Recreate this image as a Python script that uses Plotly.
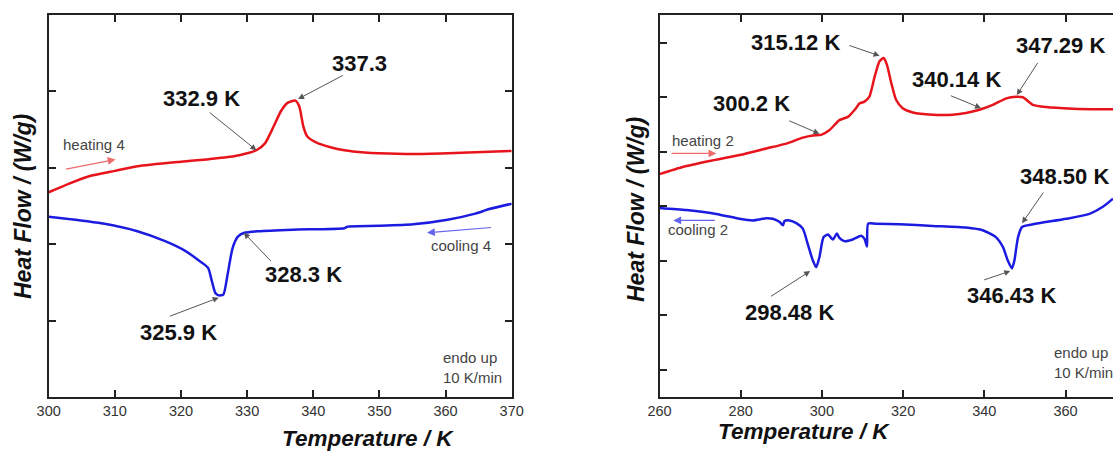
import plotly.graph_objects as go

# ---------------- data (arbitrary heat-flow units) ----------------
heat4_T = [300, 303, 306.1, 310, 313.4, 320, 323.9, 328, 330, 331.4, 332.7, 334, 335.1, 336.1,
           337.3, 337.9, 338.5, 339.1, 340.5, 342.6, 344.7, 347.8, 349.9, 355.1, 360.3, 370]
heat4_Q = [2.68, 2.79, 2.89, 2.96, 3.02, 3.08, 3.11, 3.15, 3.19, 3.23, 3.32, 3.54, 3.74, 3.85,
           3.88, 3.80, 3.54, 3.41, 3.33, 3.27, 3.23, 3.20, 3.19, 3.18, 3.19, 3.22]

cool4_T = [300, 303, 308.2, 313.4, 317.6, 320.7, 322.8, 324.1, 324.6, 325.2, 325.7, 326.4, 327,
           327.8, 328.6, 329.6, 331.7, 336.9, 344.7, 345.2, 349.9, 355.1, 360.3, 364.5, 366.6, 370]
cool4_Q = [2.36, 2.33, 2.27, 2.17, 2.04, 1.91, 1.78, 1.69, 1.54, 1.36, 1.33, 1.34, 1.58,
           1.95, 2.10, 2.15, 2.17, 2.19, 2.21, 2.23, 2.24, 2.26, 2.32, 2.40, 2.46, 2.53]

heat2_T = [260, 265.7, 272.3, 279.7, 286.3, 291.2, 295.3, 297.8, 299.8, 301.9, 304.3, 306.4, 308.4,
           309.3, 310.5, 311.7, 313, 314.2, 315.2, 316, 317.1, 318.3, 319.9, 322.4, 327.3, 332.2,
           335.5, 338.8, 342.1, 345.4, 347.8, 349.5, 352, 355.2, 361.8, 368.4, 371.7]
heat2_Q = [4.09, 4.22, 4.33, 4.44, 4.56, 4.65, 4.76, 4.80, 4.81, 4.90, 5.08, 5.14, 5.30,
           5.39, 5.42, 5.51, 5.88, 6.16, 6.22, 6.10, 5.76, 5.45, 5.30, 5.22, 5.18, 5.18,
           5.21, 5.27, 5.36, 5.48, 5.51, 5.50, 5.36, 5.32, 5.29, 5.28, 5.28]

cool2_T = [260, 266.6, 274, 279.7, 283, 286.3, 287.9, 289.6, 290.4, 290.8, 292, 293.7, 295.3, 296.5,
           297.8, 298.6, 299.4, 300.4, 301.5, 302.7, 303.7, 304.3, 305.6, 307.6, 309.7, 310.5, 311.1,
           311.4, 313.4, 319.1, 327.3, 335.5, 339.6, 342.9, 344.6, 345.8, 346.8, 347.4, 348.3, 349.3,
           352, 360.2, 365.9, 369.2, 371.7]
cool2_Q = [3.47, 3.43, 3.36, 3.27, 3.24, 3.28, 3.27, 3.21, 3.15, 3.23, 3.24, 3.19, 3.09, 2.81,
           2.50, 2.38, 2.57, 2.93, 2.98, 2.89, 3.00, 2.92, 2.86, 2.89, 2.96, 2.90, 2.76,
           3.18, 3.18, 3.17, 3.14, 3.11, 3.06, 2.93, 2.75, 2.50, 2.36, 2.50, 2.93, 3.12,
           3.17, 3.27, 3.36, 3.49, 3.64]

left_ticks = [300, 310, 320, 330, 340, 350, 360, 370]
right_ticks = [260, 280, 300, 320, 340, 360]

# ---------------- figure ----------------
RED = "#e8141c"
BLUE = "#1c1ce0"
FONT = "Liberation Sans, Arial, sans-serif"

fig = go.Figure()
line_style = dict(width=2.5, shape="spline", smoothing=0.6)
fig.add_trace(go.Scatter(x=heat4_T, y=heat4_Q, mode="lines", line=dict(color=RED, **line_style),
                         xaxis="x", yaxis="y", showlegend=False))
fig.add_trace(go.Scatter(x=cool4_T, y=cool4_Q, mode="lines", line=dict(color=BLUE, **line_style),
                         xaxis="x", yaxis="y", showlegend=False))
fig.add_trace(go.Scatter(x=heat2_T, y=heat2_Q, mode="lines", line=dict(color=RED, **line_style),
                         xaxis="x2", yaxis="y2", showlegend=False))
fig.add_trace(go.Scatter(x=cool2_T, y=cool2_Q, mode="lines", line=dict(color=BLUE, **line_style),
                         xaxis="x2", yaxis="y2", showlegend=False))

W, H = 1113, 452
TOP, BOT = 15, 397          # plot-area edges in window pixels
ax_common = dict(showgrid=False, zeroline=False, showline=True, linecolor="#222", linewidth=2,
                 ticks="inside", ticklen=7, tickwidth=2, tickcolor="#222", automargin=False)
tickfont = dict(family=FONT, size=14.5, color="#333")


def px(pix):
    return pix / W


fig.update_layout(
    template="none",
    width=W, height=H,
    margin=dict(l=0, r=0, t=TOP, b=H - BOT, pad=0, autoexpand=False),
    paper_bgcolor="white", plot_bgcolor="white",
    xaxis=dict(domain=[px(48.7), px(511.7)], range=[300, 370], tickvals=left_ticks,
               mirror="ticks", tickfont=tickfont, anchor="y", **ax_common),
    yaxis=dict(domain=[0, 1], range=[0, 5], tickvals=[1, 2, 3, 4], showticklabels=False,
               mirror="ticks", anchor="x", **ax_common),
    xaxis2=dict(domain=[px(659.5), 1.0], range=[260, 371.7], tickvals=right_ticks,
                mirror="ticks", tickfont=tickfont, anchor="y2", **ax_common),
    yaxis2=dict(domain=[0, 1], range=[0, 7.01], tickvals=[0.5, 1.5, 2.5, 3.5, 4.5, 5.5, 6.5],
                showticklabels=False, mirror=False, anchor="x2", **ax_common),
)

ann = []
lab_font = dict(family=FONT, size=22, color="#111")


def label(text, x, y, xr, yr):
    ann.append(dict(text="<b>%s</b>" % text, x=x, y=y, xref=xr, yref=yr, showarrow=False,
                    font=lab_font))


def arrow(x0, y0, x1, y1, xr, yr, color="#555", width=1, size=1.2):
    ann.append(dict(text="", x=x1, y=y1, ax=x0, ay=y0, xref=xr, yref=yr, axref=xr, ayref=yr,
                    showarrow=True, arrowhead=2, arrowsize=size, arrowwidth=width,
                    arrowcolor=color))


small_font = dict(family=FONT, size=15, color="#444")


def small(text, x, y, xr, yr, xanchor="center"):
    ann.append(dict(text=text, x=x, y=y, xref=xr, yref=yr, showarrow=False, font=small_font,
                    xanchor=xanchor, align="left"))


# left panel
label("337.3", 347.06, 4.36, "x", "y")
arrow(344.7, 4.22, 337.7, 3.90, "x", "y")
label("332.9 K", 323.1, 3.91, "x", "y")
arrow(324.1, 3.74, 331.4, 3.23, "x", "y")
label("328.3 K", 338.5, 1.60, "x", "y")
arrow(333.8, 1.76, 329.5, 2.15, "x", "y")
label("325.9 K", 319.6, 0.84, "x", "y")
arrow(318.1, 1.05, 325.7, 1.30, "x", "y")
small("heating 4", 306.8, 3.31, "x", "y")
arrow(302.4, 2.98, 310.1, 3.11, "x", "y", color="#ee6b6b", width=1.2, size=1.3)
small("cooling 4", 362.3, 1.98, "x", "y")
arrow(367.1, 2.22, 357.2, 2.15, "x", "y", color="#6464f0", width=1.2, size=1.3)
small("endo up<br>10 K/min", 359.3, 0.39, "x", "y", xanchor="left")

# right panel
label("315.12 K", 293.5, 6.50, "x2", "y2")
arrow(306.4, 6.46, 314.2, 6.26, "x2", "y2")
label("300.2 K", 282.7, 5.38, "x2", "y2")
arrow(291.6, 5.08, 299.4, 4.83, "x2", "y2")
label("340.14 K", 333.1, 5.83, "x2", "y2")
arrow(331.4, 5.54, 339.2, 5.30, "x2", "y2")
label("347.29 K", 358.8, 6.45, "x2", "y2")
arrow(353.4, 6.16, 348.0, 5.54, "x2", "y2")
label("348.50 K", 359.8, 4.04, "x2", "y2")
arrow(354.8, 3.78, 349.3, 3.19, "x2", "y2")
label("346.43 K", 346.6, 1.86, "x2", "y2")
arrow(339.6, 2.14, 346.4, 2.31, "x2", "y2")
label("298.48 K", 292.0, 1.55, "x2", "y2")
arrow(287.1, 1.83, 297.1, 2.31, "x2", "y2")
small("heating 2", 270.7, 4.70, "x2", "y2")
arrow(262.6, 4.47, 274.0, 4.47, "x2", "y2", color="#ee6b6b", width=1.2, size=1.3)
small("cooling 2", 269.5, 3.08, "x2", "y2")
arrow(274.0, 3.24, 263.4, 3.24, "x2", "y2", color="#6464f0", width=1.2, size=1.3)
small("endo up<br>10 K/min", 356.6, 0.64, "x2", "y2", xanchor="left")


# axis titles (paper coordinates from window pixels)
def py(pix):
    return (BOT - pix) / (BOT - TOP)


xt_font = dict(family=FONT, size=22.5, color="#111")
yt_font = dict(family=FONT, size=23, color="#111")
ann.append(dict(text="<b><i>Temperature / K</i></b>", x=px(280), y=py(438.5),
                xref="paper", yref="paper", showarrow=False, font=xt_font, yanchor="middle"))
ann.append(dict(text="<b><i>Temperature / K</i></b>", x=px(892), y=py(432),
                xref="paper", yref="paper", showarrow=False, font=xt_font, yanchor="middle"))
ann.append(dict(text="<b><i>Heat Flow / (W/g)</i></b>", x=px(23), y=py(207),
                xref="paper", yref="paper", showarrow=False, font=yt_font, textangle=-90,
                xanchor="center", yanchor="middle"))
ann.append(dict(text="<b><i>Heat Flow / (W/g)</i></b>", x=px(636), y=py(210),
                xref="paper", yref="paper", showarrow=False, font=yt_font, textangle=-90,
                xanchor="center", yanchor="middle"))

fig.update_layout(annotations=ann)
fig.write_html(
    "out.html",
    config={"displayModeBar": False},
    post_script="document.body.style.margin='0';document.body.style.overflow='hidden';",
)
